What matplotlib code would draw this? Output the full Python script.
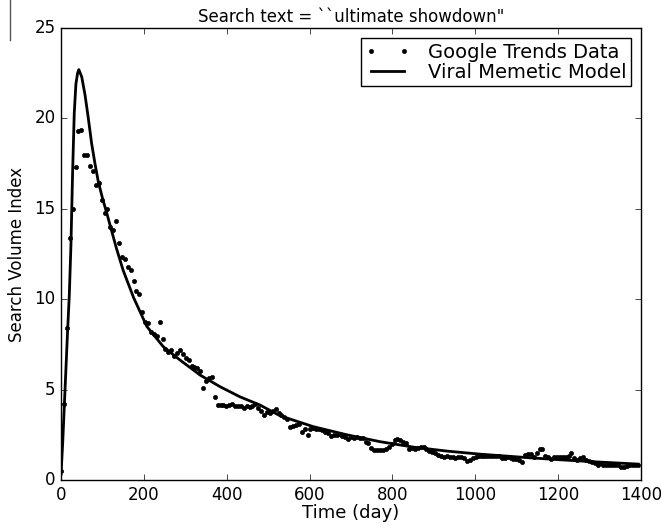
"""Google Trends search volume vs. viral memetic model fit."""

import matplotlib

matplotlib.use("Agg")

import matplotlib.pyplot as plt
from matplotlib.lines import Line2D

# weekly Google Trends samples (day 0, 7, 14, ...)
TREND_DAYS = list(range(0, 1400, 7))
TREND_SVI = [
    0.5, 4.2, 8.4, 13.4, 15.0, 17.3, 19.3, 19.35, 17.95, 17.95,
    17.35, 17.1, 16.3, 16.4, 15.5, 14.75, 15.0, 14.0, 13.8, 14.3,
    13.1, 12.35, 12.2, 11.8, 11.6, 11.0, 10.45, 10.3, 9.3, 8.75,
    8.67, 8.2, 8.1, 7.97, 8.75, 7.78, 7.23, 7.1, 7.19, 6.86,
    7.05, 7.19, 6.97, 6.73, 6.64, 6.3, 6.27, 6.18, 6.05, 5.07,
    5.49, 5.62, 5.71, 4.61, 4.15, 4.15, 4.15, 4.1, 4.15, 4.2,
    4.1, 4.1, 4.1, 4.0, 4.1, 4.05, 4.1, 4.2, 4.0, 3.8,
    3.6, 3.75, 3.7, 3.8, 3.9, 3.7, 3.6, 3.5, 3.4, 2.95,
    3.0, 3.04, 3.1, 2.67, 2.8, 2.49, 2.8, 2.85, 2.82, 2.8,
    2.75, 2.65, 2.6, 2.43, 2.48, 2.5, 2.55, 2.43, 2.36, 2.25,
    2.36, 2.3, 2.36, 2.3, 2.3, 2.12, 2.03, 1.75, 1.66, 1.66,
    1.66, 1.66, 1.69, 1.8, 1.99, 2.21, 2.25, 2.21, 2.1, 2.03,
    1.69, 1.75, 1.69, 1.75, 1.8, 1.8, 1.69, 1.62, 1.57, 1.48,
    1.38, 1.33, 1.25, 1.33, 1.25, 1.25, 1.2, 1.29, 1.25, 1.2,
    1.07, 1.1, 1.2, 1.29, 1.33, 1.33, 1.33, 1.3, 1.33, 1.33,
    1.3, 1.33, 1.2, 1.2, 1.25, 1.2, 1.15, 1.14, 1.1, 1.01,
    1.38, 1.44, 1.44, 1.29, 1.5, 1.69, 1.69, 1.33, 1.25, 1.14,
    1.25, 1.29, 1.25, 1.25, 1.25, 1.33, 1.47, 1.2, 1.1, 1.2,
    1.25, 1.1, 1.07, 1.01, 0.95, 0.83, 0.92, 0.83, 0.83, 0.83,
    0.83, 0.83, 0.83, 0.74, 0.74, 0.8, 0.83, 0.83, 0.83, 0.83,
]

MODEL_DAYS = [
    0, 4, 8, 12, 16, 20, 24, 28, 32, 36, 40, 43, 50, 58, 66, 74, 82, 90,
    100, 110, 122, 134, 150, 175, 207, 247, 287, 336, 384, 432, 480, 529,
    609, 690, 770, 850, 931, 1011, 1124, 1204, 1285, 1393,
]
MODEL_SVI = [
    0.3, 2.0, 4.1, 6.2, 8.3, 10.2, 13.0, 17.0, 20.3, 21.9, 22.5, 22.7,
    22.3, 21.3, 20.0, 18.6, 17.5, 16.5, 15.6, 14.8, 13.8, 12.8, 11.6,
    10.1, 8.5, 7.37, 6.64, 5.8, 5.16, 4.6, 4.15, 3.55, 2.95, 2.5, 2.12,
    1.82, 1.6, 1.43, 1.24, 1.12, 1.01, 0.88,
]

X_TICKS = [0, 200, 400, 600, 800, 1000, 1200, 1400]
Y_TICKS = [0, 5, 10, 15, 20, 25]


def main() -> None:
    plt.style.use("classic")
    plt.rcParams["font.family"] = ["DejaVu Sans"]

    fig = plt.figure(figsize=(6.62, 5.25), dpi=100, facecolor="white")
    ax = fig.add_axes([61 / 662, 45 / 525, 580 / 662, 452 / 525])

    ax.plot(
        TREND_DAYS,
        TREND_SVI,
        linestyle="none",
        marker="o",
        markersize=3.0,
        color="black",
        markeredgecolor="black",
        label="Google Trends Data",
    )
    ax.plot(MODEL_DAYS, MODEL_SVI, color="black", linewidth=2.0, label="Viral Memetic Model")

    ax.set_xlim(0, 1400)
    ax.set_ylim(0, 25)
    ax.set_xticks(X_TICKS)
    ax.set_yticks(Y_TICKS)
    ax.tick_params(labelsize=12)
    ax.set_xlabel("Time (day)", fontsize=13, labelpad=0)
    ax.set_ylabel("Search Volume Index", fontsize=12, labelpad=6)
    ax.set_title("Search text = ``ultimate showdown\"", fontsize=12, pad=4)
    ax.legend(
        loc="upper right",
        numpoints=2,
        prop={"size": 14},
        borderaxespad=0.5,
        labelspacing=0.05,
        borderpad=0.25,
        handlelength=2.3,
        handletextpad=0.9,
    )

    # stray crop line from the source page
    fig.add_artist(Line2D([10 / 662, 10 / 662], [1.0, 1 - 40 / 525], color="#555555", linewidth=1.0))

    fig.savefig("out.png", dpi=100, facecolor="white")
    plt.close(fig)


if __name__ == "__main__":
    main()
